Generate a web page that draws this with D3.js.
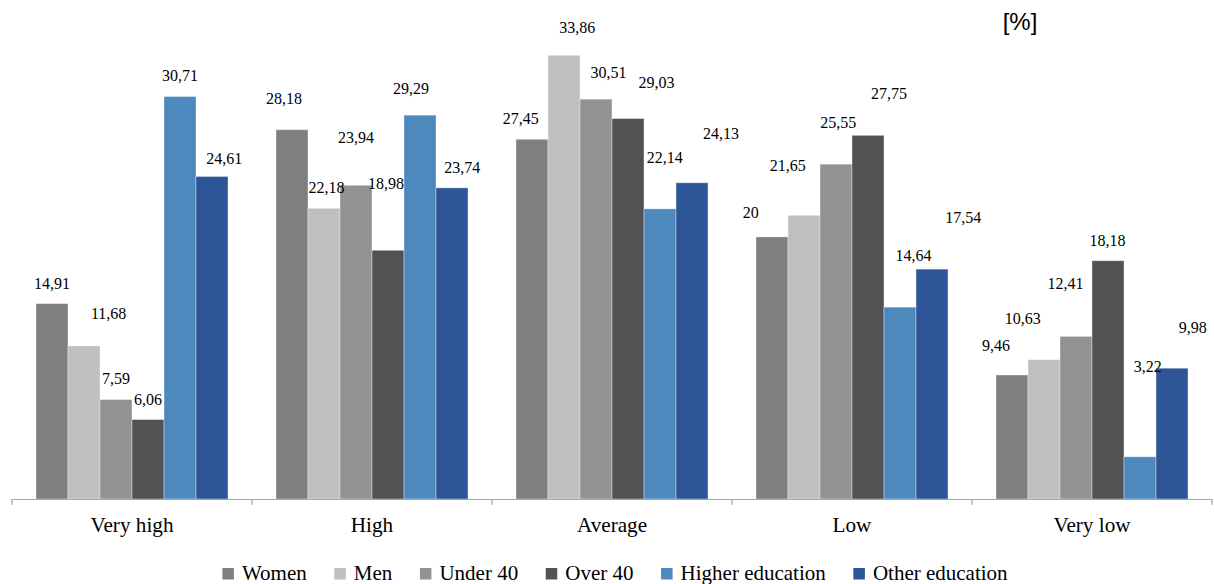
<!DOCTYPE html>
<html>
<head>
<meta charset="utf-8">
<script src="https://cdn.jsdelivr.net/npm/d3@7"></script>
<style>
  html, body { margin: 0; padding: 0; background: #fff; }
  svg { display: block; }
</style>
</head>
<body>
<svg id="chart" width="1214" height="584"></svg>
<script>
// Response levels along the x axis
const categories = ["Very high", "High", "Average", "Low", "Very low"];
// Respondent groups (one bar each per level)
const seriesNames = ["Women", "Men", "Under 40", "Over 40", "Higher education", "Other education"];
// Share of respondents, % — one array per group, in category order
const women           = [14.91, 28.18, 27.45, 20.00, 9.46];
const men             = [11.68, 22.18, 33.86, 21.65, 10.63];
const under40         = [7.59, 23.94, 30.51, 25.55, 12.41];
const over40          = [6.06, 18.98, 29.03, 27.75, 18.18];
const higherEducation = [30.71, 29.29, 22.14, 14.64, 3.22];
const otherEducation  = [24.61, 23.74, 24.13, 17.54, 9.98];
const seriesValues = [women, men, under40, over40, higherEducation, otherEducation];

const colors = ["#7f7f7f", "#bfbfbf", "#929292", "#525252", "#4e89bd", "#2e5597"];

// Hand placement of the value labels: [dx, dy] from the top centre of each bar
const labelPlacement = [
  [[0, -20], [24.6, -32.7], [0, -21.3], [0, -20], [0, -21], [12.3, -17.7]],
  [[-8, -31.6], [2.5, -21], [0, -47.7], [-2, -66.4], [-9, -26.3], [10.3, -20.6]],
  [[-11.2, -20.7], [13.3, -27.6], [12.5, -27], [28.6, -36], [4.8, -51.3], [29, -49]],
  [[-21.2, -24], [-16.2, -50], [2.3, -41.7], [21.1, -42.3], [13.5, -52], [31.3, -52]],
  [[-15.9, -29.3], [-21.2, -41.4], [-10.5, -53.1], [-0.5, -20.8], [7.8, -90.1], [20.8, -40.6]]
];

const svg = d3.select("#chart");
const serif = "Liberation Serif";

const x0 = d3.scaleBand().domain(categories).range([12, 1212]).paddingInner(0).paddingOuter(0);
const x1 = d3.scaleBand().domain(seriesNames).range([0, x0.bandwidth()]).paddingInner(0).paddingOuter(0.75);
const y = d3.scaleLinear().domain([0, 38]).range([499, 1]);

const fmt = v => String(+v.toFixed(2)).replace(".", ",");

// Bars
const groups = svg.append("g").selectAll("g")
  .data(categories)
  .join("g")
  .attr("transform", d => `translate(${x0(d)},0)`);

const cells = (c, ci) => seriesNames.map((s, si) => ({ c, ci, s, si, v: seriesValues[si][ci] }));

groups.selectAll("rect")
  .data(cells)
  .join("rect")
  .attr("x", d => x1(d.s))
  .attr("y", d => y(d.v))
  .attr("width", x1.bandwidth())
  .attr("height", d => y(0) - y(d.v))
  .attr("fill", d => colors[d.si])
  .attr("stroke", "#ffffff")
  .attr("stroke-opacity", 0.45)
  .attr("stroke-width", 0.8);

// Value labels
groups.selectAll("text.val")
  .data(cells)
  .join("text")
  .attr("class", "val")
  .attr("x", d => x1(d.s) + x1.bandwidth() / 2 + labelPlacement[d.ci][d.si][0])
  .attr("y", d => y(d.v) + labelPlacement[d.ci][d.si][1])
  .attr("dy", "0.35em")
  .attr("text-anchor", "middle")
  .style("font-family", serif)
  .style("font-size", "16px")
  .attr("fill", "#000")
  .text(d => fmt(d.v));

// Category axis with tick marks between groups
const axisG = svg.append("g");
axisG.append("line")
  .attr("x1", x0.range()[0]).attr("x2", x0.range()[1])
  .attr("y1", y(0) + 0.5).attr("y2", y(0) + 0.5)
  .attr("stroke", "#a6a6a6").attr("stroke-width", 1.2);
const tickXs = categories.map(c => x0(c)).concat([x0.range()[1]]);
axisG.selectAll("line.tick")
  .data(tickXs)
  .join("line")
  .attr("class", "tick")
  .attr("x1", d => d).attr("x2", d => d)
  .attr("y1", y(0)).attr("y2", y(0) + 6)
  .attr("stroke", "#a6a6a6").attr("stroke-width", 1.2);
axisG.selectAll("text")
  .data(categories)
  .join("text")
  .attr("x", d => x0(d) + x0.bandwidth() / 2)
  .attr("y", 531.5)
  .attr("text-anchor", "middle")
  .style("font-family", serif)
  .style("font-size", "21.2px")
  .attr("fill", "#000")
  .text(d => d);

// Unit marker
svg.append("text")
  .attr("x", 1020).attr("y", 30)
  .attr("text-anchor", "middle")
  .style("font-family", "Liberation Sans")
  .style("font-size", "24px")
  .attr("fill", "#000")
  .text("[%]");

// Legend, centred below the axis
const sw = 11.5, swGap = 8, itemGap = 27.6;
const legend = svg.append("g");
const items = legend.selectAll("g")
  .data(seriesNames)
  .join("g");
items.append("rect")
  .attr("width", sw).attr("height", sw)
  .attr("y", 568)
  .attr("fill", (d, i) => colors[i]);
items.append("text")
  .attr("x", sw + swGap)
  .attr("y", 580)
  .style("font-family", serif)
  .style("font-size", "21px")
  .attr("fill", "#000")
  .text(d => d);
let cursor = 0;
const offsets = [];
items.each(function () {
  offsets.push(cursor);
  const w = d3.select(this).select("text").node().getComputedTextLength();
  cursor += sw + swGap + w + itemGap;
});
const totalW = cursor - itemGap;
const startX = 615 - totalW / 2;
items.attr("transform", (d, i) => `translate(${startX + offsets[i]},0)`);
</script>
</body>
</html>
